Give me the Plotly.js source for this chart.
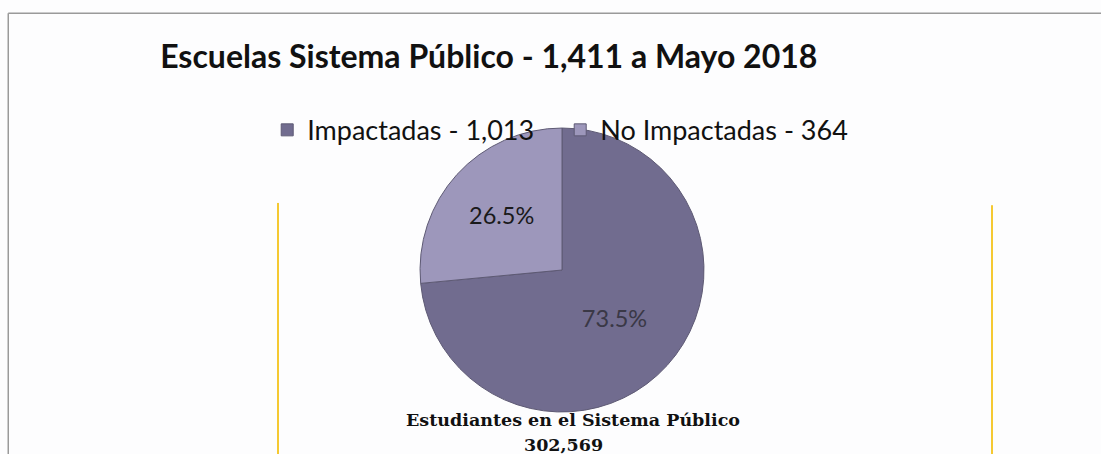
<!DOCTYPE html>
<html>
<head>
<meta charset="utf-8">
<script src="https://cdn.plot.ly/plotly-3.0.1.min.js"></script>
<style>html,body{margin:0;padding:0;background:#fdfdfe;}#chart{width:1101px;height:454px;}</style>
</head>
<body>
<div id="chart"></div>
<script>
const categories = ["Impactadas - 1,013", "No Impactadas - 364"];
const percents = [73.5, 26.5];
const sliceColors = ["#716c8f", "#9d97bb"];
const chartTitle = "Escuelas Sistema Público - 1,411 a Mayo 2018";
const footnoteLines = ["Estudiantes en el Sistema Público", "302,569"];

const trace = {
  type: "pie",
  labels: categories,
  values: percents,
  sort: false,
  direction: "clockwise",
  rotation: 0,
  textinfo: "percent",
  texttemplate: "%{percent:.1%}",
  textposition: "inside",
  insidetextorientation: "horizontal",
  textfont: {family: "Lato, 'Open Sans', sans-serif", size: 23.5, color: ["#3a3846", "#1a1a1a"]},
  marker: {colors: sliceColors, line: {color: "#5e5a74", width: 1}},
  domain: {x: [0.3815, 0.6394], y: [0.0925, 0.718]},
  hoverinfo: "label+percent"
};

const layout = {
  width: 1101, height: 454,
  margin: {l: 0, r: 0, t: 0, b: 0},
  paper_bgcolor: "#fdfdfe",
  title: {text: "<b>" + chartTitle + "</b>", font: {family: "Lato, sans-serif", size: 32, color: "#111"}, x: 0.1455, xanchor: "left", y: 0.875, yanchor: "middle"},
  showlegend: true,
  legend: {orientation: "h", x: 0.2427, xanchor: "left", y: 0.713, yanchor: "middle", font: {family: "Lato, sans-serif", size: 27, color: "#111"}, bgcolor: "rgba(0,0,0,0)", itemwidth: 30, entrywidth: 248, tracegroupgap: 0},
  annotations: [
    {text: "<b>" + footnoteLines[0] + "</b>", x: 0.5205, y: 0.075, xref: "paper", yref: "paper", xanchor: "center", yanchor: "middle", showarrow: false, font: {family: "'DejaVu Serif', serif", size: 17.5, color: "#111"}},
    {text: "<b>" + footnoteLines[1] + "</b>", x: 0.5115, y: 0.019, xref: "paper", yref: "paper", xanchor: "center", yanchor: "middle", showarrow: false, font: {family: "'DejaVu Serif', serif", size: 17.5, color: "#111"}}
  ],
  shapes: [
    {type: "line", xref: "paper", yref: "paper", x0: 0.0075, x1: 1, y0: 0.971, y1: 0.971, line: {color: "#9a9a9a", width: 1.5}},
    {type: "line", xref: "paper", yref: "paper", x0: 0.0075, x1: 0.0075, y0: 0.971, y1: 0, line: {color: "#9a9a9a", width: 1.5}},
    {type: "line", xref: "paper", yref: "paper", x0: 0.2525, x1: 0.2525, y0: 0.553, y1: 0, line: {color: "#f5c932", width: 2}},
    {type: "line", xref: "paper", yref: "paper", x0: 0.901, x1: 0.901, y0: 0.548, y1: 0, line: {color: "#f5c932", width: 2}}
  ]
};

Plotly.newPlot("chart", [trace], layout, {displayModeBar: false, staticPlot: true});
</script>
</body>
</html>
